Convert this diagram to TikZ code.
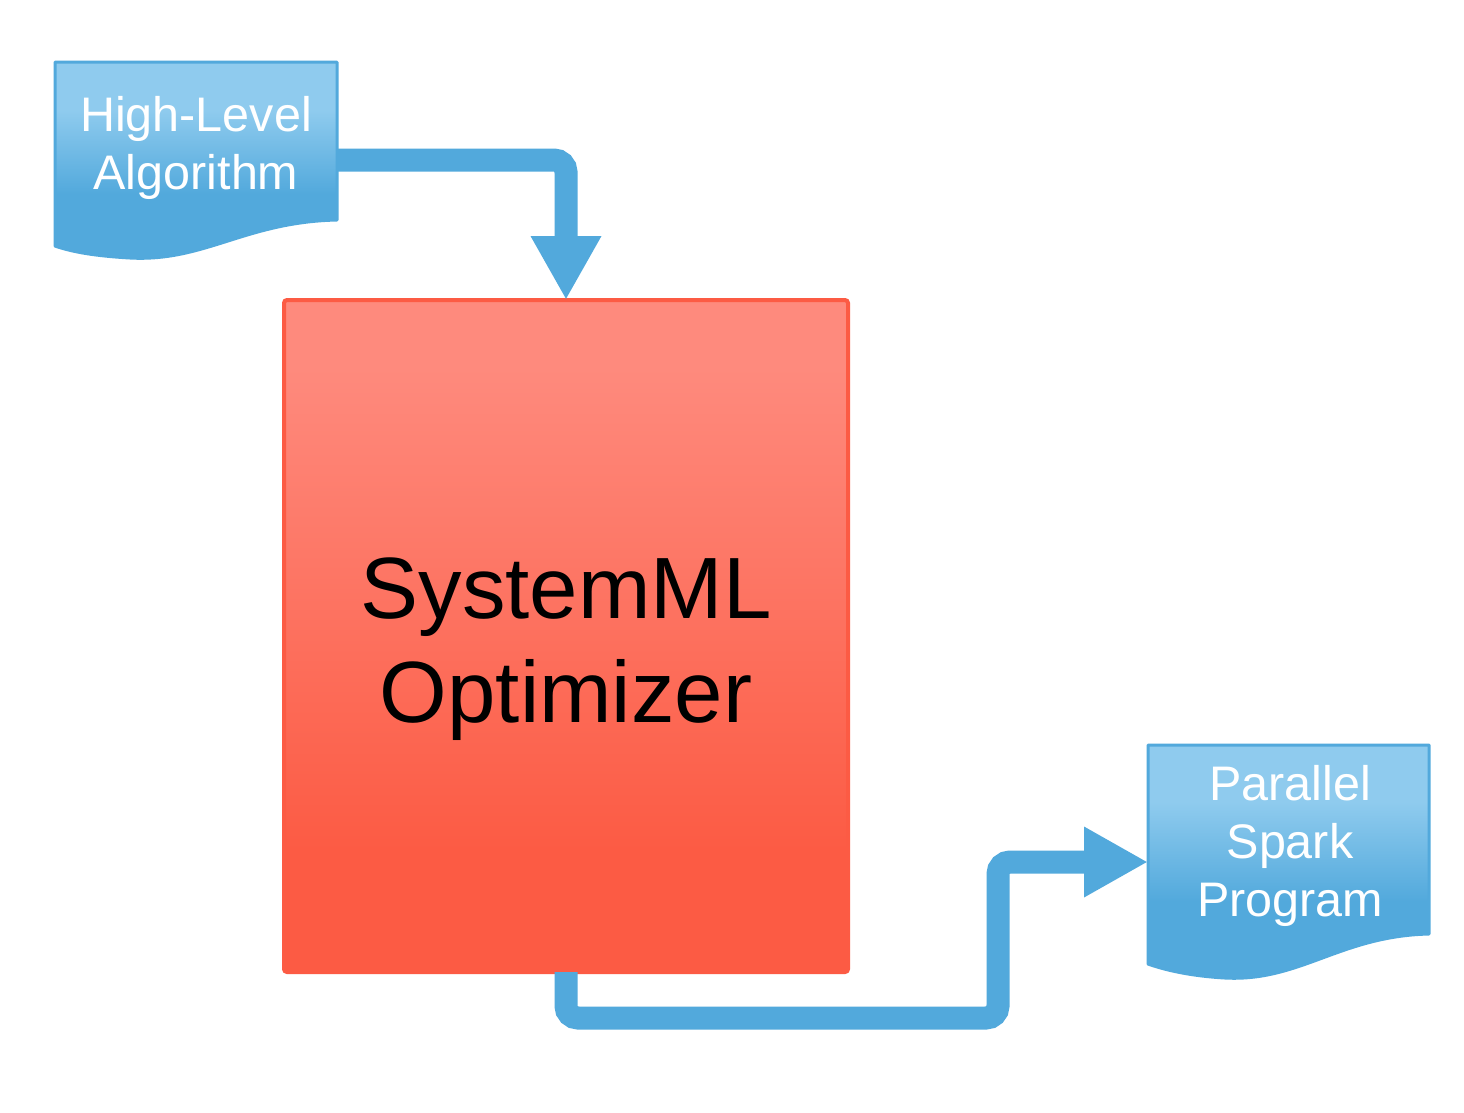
\documentclass[tikz,border=0pt]{standalone}
\usepackage{fontspec}
\setmainfont{Liberation Sans}
\usetikzlibrary{arrows.meta,calc}
\definecolor{bluedark}{HTML}{52A9DC}
\definecolor{bluelight}{HTML}{8FCBEE}
\definecolor{reddark}{HTML}{FC5B44}
\definecolor{redlight}{HTML}{FE8A7D}
\pgfdeclareverticalshading{docshade}{100bp}{color(0bp)=(bluedark); color(42bp)=(bluedark); color(63bp)=(bluelight); color(100bp)=(bluelight)}
\pgfdeclareverticalshading{optshade}{100bp}{color(0bp)=(reddark); color(34bp)=(reddark); color(70bp)=(redlight); color(100bp)=(redlight)}
\begin{document}
\begin{tikzpicture}[x=1pt,y=-1pt,
  anchorbox/.style={inner sep=0pt,outer sep=0pt,draw=none},
  docshape/.style={shading=docshade,draw=bluedark,line width=3pt,line join=round},
  optbox/.style={shading=optshade,draw=reddark,line width=4pt,rounded corners=3pt,
    inner sep=0pt,outer sep=0pt,minimum width=564pt,minimum height=672pt},
  doctext/.style={text=white,align=center,font=\fontsize{48.5}{58}\selectfont},
  opttext/.style={text=black,align=center,font=\fontsize{87}{104}\selectfont},
  flow/.style={draw=bluedark,line width=23pt,rounded corners=12pt,
    -{Triangle[length=64pt,width=66pt]}}]
\fill[white] (0,0) rectangle (1464,1112);
\useasboundingbox (0,0) rectangle (1464,1112);

% anchor nodes
\node[anchorbox,minimum width=282pt,minimum height=158pt] (alg) at (196,141) {};
\node[anchorbox,minimum width=281pt,minimum height=234pt] (prog) at (1288.5,862) {};
\node[optbox] (opt) at (566,636) {};

% arrows
\draw[flow] ($(alg.east)+(0,19)$) -| (opt.north);
\draw[flow] (opt.south) -- ++(0,46) -| ++(432,-156) -- (prog.west);

% document shapes
\path[docshape] (55,62) -- (337,62) -- (337,220)
  .. controls (245,222) and (205,262) .. (130,258)
  .. controls (95,256) and (72,252) .. (55,246) -- cycle;
\path[docshape] (1148,745) -- (1429,745) -- (1429,934)
  .. controls (1340,936) and (1300,982) .. (1225,978)
  .. controls (1190,976) and (1165,970) .. (1148,964) -- cycle;

% texts
\node[doctext] (algtext) at (196,147.5) {High-Level\\Algorithm};
\node[doctext] (progtext) at (1290,846) {Parallel\\Spark\\Program};
\node[opttext] (opttxt) at (566,649) {SystemML\\Optimizer};
\end{tikzpicture}
\end{document}
